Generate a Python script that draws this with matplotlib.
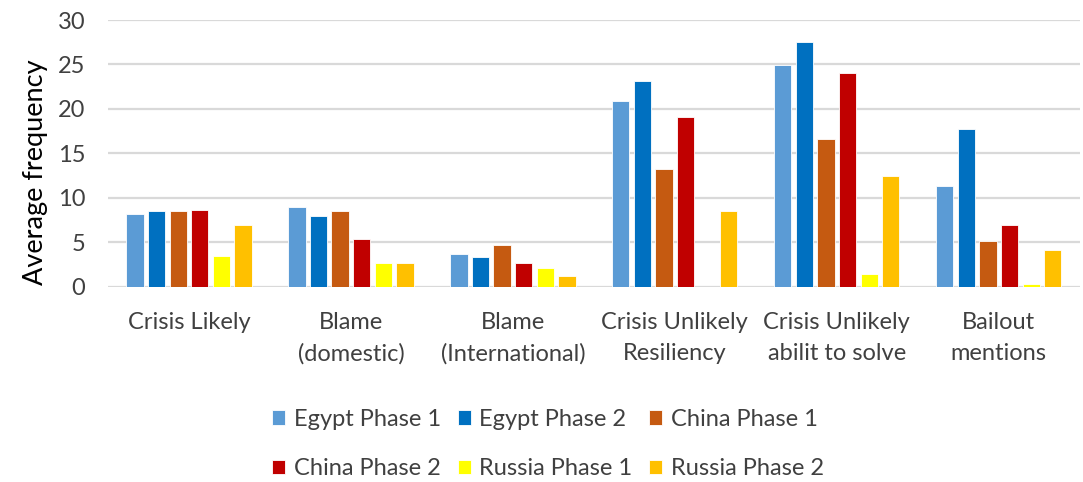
import matplotlib
matplotlib.use("Agg")
import matplotlib.pyplot as plt
import numpy as np

plt.rcParams['font.family'] = ['Lato', 'DejaVu Sans']

categories = ["Crisis Likely", "Blame\n(domestic)", "Blame\n(International)",
              "Crisis Unlikely\nResiliency", "Crisis Unlikely\nabilit to solve",
              "Bailout\nmentions"]
series_names = ["Egypt Phase 1", "Egypt Phase 2", "China Phase 1",
                "China Phase 2", "Russia Phase 1", "Russia Phase 2"]

egypt_phase1 = [8.2, 9.0, 3.7, 20.9, 24.9, 11.3]
egypt_phase2 = [8.5, 8.0, 3.4, 23.2, 27.5, 17.8]
china_phase1 = [8.5, 8.5, 4.7, 13.3, 16.6, 5.2]
china_phase2 = [8.7, 5.4, 2.7, 19.1, 24.0, 7.0]
russia_phase1 = [3.5, 2.7, 2.1, 0.0, 1.5, 0.3]
russia_phase2 = [7.0, 2.7, 1.2, 8.5, 12.5, 4.1]

yticks = [0, 5, 10, 15, 20, 25, 30]

series = [egypt_phase1, egypt_phase2, china_phase1,
          china_phase2, russia_phase1, russia_phase2]
colors = ["#5B9BD5", "#0070C0", "#C55A11", "#C00000", "#FFFF00", "#FFC000"]

fig = plt.figure(figsize=(10.83, 4.82), dpi=100)
ax = fig.add_axes([0.0997, 0.4046, 0.8973, 0.5539])

x = np.arange(len(categories))
slot = 0.8 / len(series)
bar_w = slot * 0.80
handles = []
for i, (vals, col, name) in enumerate(zip(series, colors, series_names)):
    offs = (i - (len(series) - 1) / 2) * slot
    b = ax.bar(x + offs, vals, width=bar_w, color=col, edgecolor="white",
               linewidth=0.6, label=name, zorder=3)
    handles.append(b)

ax.set_xlim(-0.5, len(categories) - 0.5)
ax.set_ylim(0, 30)
ax.set_yticks(yticks)
ax.yaxis.grid(True, color="#D9D9D9", linewidth=1.6, zorder=0)
ax.set_axisbelow(True)
for s in ax.spines.values():
    s.set_visible(False)
ax.tick_params(axis="both", length=0, labelsize=17, colors="#404040")
ax.tick_params(axis="y", pad=16.5)
ax.tick_params(axis="x", pad=18)
ax.set_xticks(x)
ax.set_xticklabels(categories, linespacing=1.6)
ax.set_ylabel("Average frequency", fontsize=19.5, color="#000000")
ax.yaxis.set_label_coords(-0.0617, 0.43)

# legend laid out row by row (matplotlib fills columns first)
order = [0, 3, 1, 4, 2, 5]
leg = fig.legend([handles[k] for k in order], [series_names[k] for k in order],
                 ncol=3, loc="center", bbox_to_anchor=(0.506, 0.079),
                 frameon=False, fontsize=17, handlelength=0.55,
                 handleheight=0.55, handletextpad=0.38, columnspacing=0.7,
                 labelspacing=1.19, borderpad=0.2)
for t in leg.get_texts():
    t.set_color("#404040")

fig.savefig("out.png", dpi=100)
